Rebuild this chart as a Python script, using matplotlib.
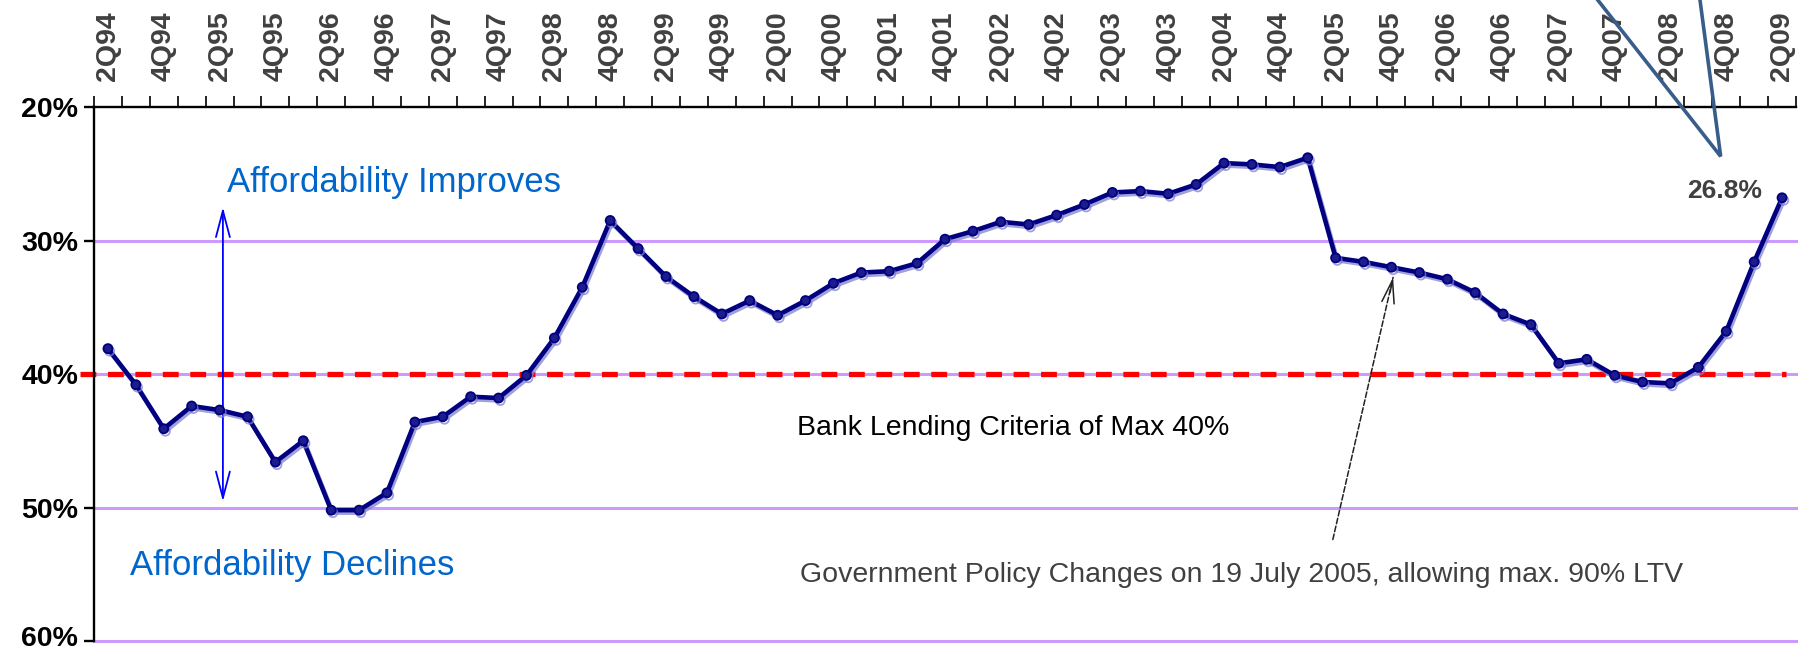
import matplotlib
matplotlib.use("Agg")
import numpy as np
import matplotlib.pyplot as plt
import matplotlib.patheffects as pe
from matplotlib.transforms import ScaledTranslation

# quarterly categories 2Q94 .. 2Q09
quarters = [f"{q}Q{y % 100:02d}" for y in range(1994, 2010) for q in range(1, 5)][1:62]

# mortgage payment as % of household income (lower = more affordable)
affordability = [38.1, 40.8, 44.1, 42.4, 42.7, 43.2, 46.6, 45.0, 50.2, 50.2,
                 48.9, 43.6, 43.2, 41.7, 41.8, 40.1, 37.3, 33.5, 28.5, 30.6,
                 32.7, 34.2, 35.5, 34.5, 35.6, 34.5, 33.2, 32.4, 32.3, 31.7,
                 29.9, 29.3, 28.6, 28.8, 28.1, 27.3, 26.4, 26.3, 26.5, 25.8,
                 24.2, 24.3, 24.5, 23.8, 31.3, 31.6, 32.0, 32.4, 32.9, 33.9,
                 35.5, 36.3, 39.2, 38.9, 40.1, 40.6, 40.7, 39.5, 36.8, 31.6,
                 26.8]

y_ticks = [20, 30, 40, 50, 60]
grid_levels = [30, 40, 50, 60]
lending_limit = 40

FONT = "Liberation Sans"

W, H = 1803, 654
fig = plt.figure(figsize=(W / 100, H / 100), dpi=100)
ax = fig.add_axes([94 / W, 1 - 641 / H, (1796 - 94) / W, 534 / H])

x = np.arange(len(quarters))
ax.set_xlim(-0.5, len(quarters) - 0.5)
ax.set_ylim(60, 20)

# gridlines + lending criteria line
for lvl in grid_levels:
    ax.axhline(lvl, color="#cc99ff", lw=2.2, zorder=1, clip_on=False)
ax.axhline(lending_limit, xmin=-0.008, xmax=0.994, color="#ff0000", lw=3.8,
           dashes=(3, 2.2), zorder=2, clip_on=False)

ax.plot(x, affordability, color="#000080", lw=3.3, marker="o", ms=6.5,
        mfc="#1c1c8a", mec="#000080", mew=1.3, zorder=4,
        path_effects=[pe.SimpleLineShadow(offset=(1.2, -1.8), shadow_color="#8080d0", alpha=0.75),
                      pe.Normal()])

# axes styling
for side in ["bottom", "right"]:
    ax.spines[side].set_visible(False)
for side in ["top", "left"]:
    ax.spines[side].set_linewidth(1.7)
    ax.spines[side].set_color("black")

ax.xaxis.tick_top()
ax.set_xticks(np.arange(-0.5, len(quarters), 1))
ax.set_xticks(x[::2], minor=True)
ax.set_xticklabels(quarters[::2], minor=True, rotation=90, fontsize=20.5,
                   fontweight="bold", color="#404040", family=FONT)
ax.tick_params(axis="x", which="major", top=True, bottom=False, labeltop=False,
               labelbottom=False, direction="out", length=8, width=1.2)
ax.tick_params(axis="x", which="minor", top=True, bottom=False, labeltop=True,
               labelbottom=False, length=0, pad=19)

ax.set_yticks(y_ticks)
ax.set_yticklabels([f"{v}%" for v in y_ticks], fontsize=20.5,
                   fontweight="bold", family=FONT)
ax.tick_params(axis="y", direction="out", length=7.5, width=1.7, pad=4)
# nudge the bottom label up so it stays inside the canvas
bottom_label = ax.get_yticklabels()[-1]
bottom_label.set_transform(bottom_label.get_transform()
                           + ScaledTranslation(0, 5 / 100, fig.dpi_scale_trans))

# direction arrow
ax.annotate("", xy=(4.12, 27.5), xytext=(4.12, 49.55),
            arrowprops=dict(arrowstyle="<->,head_length=0.95,head_width=0.25",
                            mutation_scale=20, color="#0000ff", lw=1.3,
                            shrinkA=0, shrinkB=0))
ax.text(4.27, 26.37, "Affordability Improves", color="#0066cc",
        fontsize=25, family=FONT, va="baseline")
ax.text(0.79, 55.06, "Affordability Declines", color="#0066cc",
        fontsize=25, family=FONT, va="baseline")

ax.text(24.7, 44.57, "Bank Lending Criteria of Max 40%", color="black",
        fontsize=20.5, family=FONT, va="baseline")
ax.text(24.8, 55.58, "Government Policy Changes on 19 July 2005, allowing max. 90% LTV",
        color="#404040", fontsize=20.5, family=FONT, va="baseline")

# policy change pointer (dashed shaft, solid head)
ax.annotate("", xy=(46.06, 32.76), xytext=(43.9, 52.4),
            arrowprops=dict(arrowstyle="-", ls="--", lw=1.1, color="#222222",
                            shrinkA=0, shrinkB=0))
ax.annotate("", xy=(46.06, 32.76), xytext=(45.95, 33.9),
            arrowprops=dict(arrowstyle="->,head_length=1.1,head_width=0.3",
                            mutation_scale=15, lw=1.1, color="#222222",
                            shrinkA=0, shrinkB=0))

# latest reading callout
callout_x = [53.4, 57.8, 57.06]
callout_y = [12.0, 23.7, 12.0]
ax.plot(callout_x, callout_y, color="#385d8a", lw=2.6, clip_on=False,
        solid_joinstyle="miter", zorder=5)
ax.annotate(f"{affordability[-1]:.1f}%", xy=(x[-1], affordability[-1]),
            xytext=(-41, 5), textcoords="offset points", ha="center", va="center",
            fontsize=19, fontweight="bold", family=FONT, color="#404040")

fig.savefig("out.png", dpi=100)
